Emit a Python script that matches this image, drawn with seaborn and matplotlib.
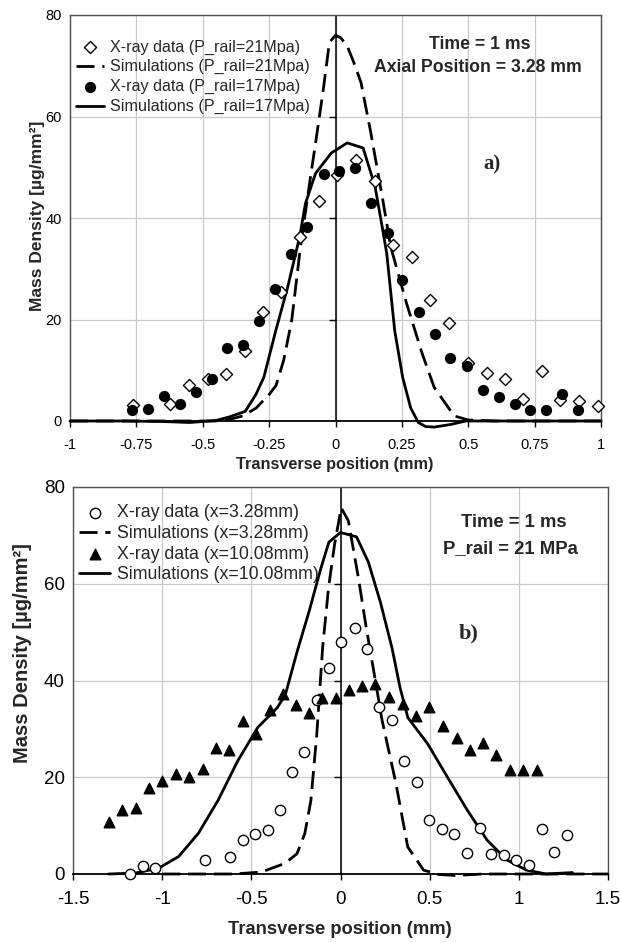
import numpy as np
import pandas as pd
import matplotlib
matplotlib.use("Agg")
import matplotlib.pyplot as plt
import matplotlib.markers as mmarkers
import seaborn as sns

# ---------------- Panel a) data ----------------
a_xray21_x = [-0.761, -0.624, -0.553, -0.481, -0.414, -0.342, -0.274, -0.204, -0.132, -0.062,
              0.007, 0.078, 0.150, 0.217, 0.287, 0.357, 0.427, 0.499, 0.569, 0.638,
              0.708, 0.778, 0.847, 0.916, 0.988]
a_xray21_y = [3.2, 3.4, 7.1, 8.2, 9.2, 13.7, 21.4, 25.5, 36.3, 43.3,
              48.4, 51.5, 47.2, 34.7, 32.3, 23.8, 19.3, 11.5, 9.5, 8.2,
              4.4, 9.8, 4.2, 4.0, 3.0]

a_sim21_x = [-1.0, -0.8, -0.6, -0.45, -0.4, -0.35, -0.3, -0.25, -0.224, -0.195, -0.165, -0.132,
             -0.1, -0.075, -0.046, -0.023, 0.0, 0.02, 0.044, 0.07, 0.096, 0.133, 0.178,
             0.208, 0.268, 0.327, 0.372, 0.447, 0.5, 0.6, 0.8, 1.0]
a_sim21_y = [0, 0, 0, 0, 0.3, 1.0, 2.5, 5.2, 7.0, 12.0, 19.8, 34.3,
             46.0, 54.8, 65.3, 74.6, 76.0, 75.5, 73.9, 70.5, 66.7, 56.8, 43.6,
             34.3, 23.1, 13.2, 6.6, 1.0, 0.2, 0, 0, 0]

a_xray17_x = [-0.766, -0.706, -0.646, -0.587, -0.527, -0.467, -0.407, -0.348, -0.288, -0.228,
              -0.167, -0.107, -0.045, 0.012, 0.075, 0.134, 0.196, 0.252, 0.313, 0.373,
              0.433, 0.494, 0.554, 0.615, 0.675, 0.734, 0.794, 0.854, 0.913]
a_xray17_y = [2.2, 2.3, 4.9, 3.4, 5.7, 8.2, 14.3, 14.9, 19.7, 26.1,
              32.9, 38.3, 48.7, 49.3, 49.9, 43.0, 37.1, 27.7, 21.4, 17.2,
              12.5, 10.8, 6.2, 4.8, 3.3, 2.1, 2.1, 5.3, 2.1]

a_sim17_x = [-1.0, -0.8, -0.65, -0.55, -0.45, -0.4, -0.34, -0.3, -0.27, -0.225, -0.18, -0.135,
             -0.113, -0.075, -0.016, 0.044, 0.104, 0.149, 0.178, 0.193, 0.223, 0.253,
             0.283, 0.312, 0.34, 0.372, 0.432, 0.491, 0.6, 0.8, 1.0]
a_sim17_y = [0, 0, -0.1, -0.3, 0.1, 0.8, 1.9, 5.2, 8.6, 17.8, 26.4, 36.3,
             42.9, 48.8, 52.8, 54.8, 53.8, 46.2, 37.6, 33.0, 17.8, 8.6,
             2.6, -0.3, -1.1, -1.2, -0.7, 0, 0, 0, 0]

a_labels = ["X-ray data (P_rail=21Mpa)", "Simulations (P_rail=21Mpa)",
            "X-ray data (P_rail=17Mpa)", "Simulations (P_rail=17Mpa)"]
a_xticks = [-1, -0.75, -0.5, -0.25, 0, 0.25, 0.5, 0.75, 1]
a_xticklabels = ["-1", "-0.75", "-0.5", "-0.25", "0", "0.25", "0.5", "0.75", "1"]

# ---------------- Panel b) data ----------------
b_xray3_x = [-1.179, -1.108, -1.041, -0.760, -0.620, -0.549, -0.480, -0.409, -0.341, -0.272,
             -0.203, -0.134, -0.065, 0.005, 0.079, 0.148, 0.218, 0.287, 0.358, 0.427,
             0.498, 0.567, 0.637, 0.709, 0.780, 0.846, 0.917, 0.986, 1.057, 1.128,
             1.199, 1.270]
b_xray3_y = [0, 1.6, 1.3, 2.9, 3.6, 7.0, 8.2, 9.0, 13.3, 21.0,
             25.3, 36.0, 42.6, 47.9, 50.8, 46.5, 34.5, 31.9, 23.4, 19.1,
             11.1, 9.3, 8.2, 4.4, 9.6, 4.2, 3.9, 2.9, 1.8, 9.3,
             4.6, 8.0]

b_sim3_x = [-1.0, -0.8, -0.6, -0.444, -0.311, -0.244, -0.2, -0.166, -0.133, -0.1, -0.067,
            -0.033, 0.004, 0.044, 0.1, 0.144, 0.189, 0.233, 0.311, 0.377, 0.466,
            0.55, 0.643, 0.8, 1.0, 1.2, 1.5]
b_sim3_y = [0, 0, 0, 0.4, 2.2, 4.2, 8.4, 15.2, 28.9, 46.9, 59.2,
            68.2, 75.7, 73.0, 61.3, 51.0, 41.4, 31.8, 18.7, 5.6, 0.8,
            -0.1, -0.3, 0, 0, 0, 0]

b_xray10_x = [-1.300, -1.223, -1.148, -1.075, -0.999, -0.924, -0.848, -0.773, -0.697, -0.624,
              -0.549, -0.474, -0.398, -0.325, -0.252, -0.176, -0.103, -0.028, 0.048, 0.123,
              0.196, 0.274, 0.349, 0.422, 0.498, 0.573, 0.651, 0.724, 0.797, 0.873,
              0.950, 1.026, 1.101]
b_xray10_y = [10.7, 13.3, 13.7, 17.8, 19.3, 20.6, 20.1, 21.7, 26.0, 25.6,
              31.6, 29.0, 33.8, 37.3, 35.0, 33.3, 36.3, 36.3, 38.0, 38.8,
              39.3, 36.6, 35.2, 32.7, 34.5, 30.6, 28.1, 25.6, 27.0, 24.7,
              21.5, 21.5, 21.5]

b_sim10_x = [-1.3, -1.15, -1.02, -0.908, -0.797, -0.687, -0.576, -0.464, -0.354, -0.309,
             -0.243, -0.176, -0.11, -0.065, 0.0, 0.09, 0.156, 0.223, 0.289, 0.334,
             0.378, 0.489, 0.6, 0.711, 0.822, 0.933, 1.043, 1.154, 1.3]
b_sim10_y = [0, 0.2, 1.2, 3.6, 8.4, 15.2, 23.4, 30.3, 34.4, 37.1,
             46.0, 54.3, 63.2, 68.6, 70.6, 69.7, 64.5, 56.3, 46.7, 38.5,
             32.3, 26.9, 20.0, 13.2, 7.0, 2.9, 0.8, 0, 0.3]

b_labels = ["X-ray data (x=3.28mm)", "Simulations (x=3.28mm)",
            "X-ray data (x=10.08mm)", "Simulations (x=10.08mm)"]
b_xticks = [-1.5, -1, -0.5, 0, 0.5, 1, 1.5]
b_xticklabels = ["-1.5", "-1", "-0.5", "0", "0.5", "1", "1.5"]

yticks = [0, 20, 40, 60, 80]
ylabel = "Mass Density [µg/mm²]"
xlabel = "Transverse position (mm)"

# ---------------- Styling ----------------
sns.set_theme(style="white")
plt.rcParams["font.family"] = ["Liberation Sans", "DejaVu Sans"]

W, H = 621, 943
fig = plt.figure(figsize=(W / 100, H / 100), dpi=100)
ax1 = fig.add_axes([70 / W, 1 - 421 / H, 531 / W, 406 / H])
ax2 = fig.add_axes([73 / W, 1 - 874 / H, 535 / W, 387 / H])

DASH = (0, (6.5, 2.8))


def panel(ax, sx1, sy1, lx1, ly1, sx2, sy2, lx2, ly2, labels, m1, m1fill, s1, m2, m2fill, s2,
          xlim, xticks, xticklabels, tick_fs, leg_fs, leg_anchor, leg_space):
    d1 = pd.DataFrame({"x": sx1, "y": sy1})
    l1 = pd.DataFrame({"x": lx1, "y": ly1})
    d2 = pd.DataFrame({"x": sx2, "y": sy2})
    l2 = pd.DataFrame({"x": lx2, "y": ly2})
    sns.scatterplot(data=d1, x="x", y="y", marker=m1, s=s1, color=m1fill,
                    edgecolor="black", linewidth=1.0, label=labels[0], ax=ax,
                    zorder=4, clip_on=False)
    sns.lineplot(data=l1, x="x", y="y", sort=False, estimator=None, color="black",
                 lw=2.0, linestyle=DASH, label=labels[1], ax=ax, zorder=3, clip_on=False)
    sns.scatterplot(data=d2, x="x", y="y", marker=m2, s=s2, color=m2fill,
                    edgecolor="black", linewidth=1.0, label=labels[2], ax=ax,
                    zorder=4, clip_on=False)
    sns.lineplot(data=l2, x="x", y="y", sort=False, estimator=None, color="black",
                 lw=2.0, label=labels[3], ax=ax, zorder=3, clip_on=False)

    ax.set_xlim(*xlim)
    ax.set_ylim(0, 80)
    ax.set_xticks(xticks)
    ax.set_xticklabels(xticklabels)
    ax.set_yticks(yticks)
    ax.set_yticklabels([str(v) for v in yticks])
    ax.set_xlabel("")
    ax.set_ylabel("")
    ax.grid(True, color="#c9c9c9", lw=0.9)
    ax.set_axisbelow(True)
    ax.tick_params(axis="x", bottom=True, direction="out", length=4, width=1,
                   color="black", labelsize=tick_fs, pad=8, labelcolor="black")
    ax.tick_params(axis="y", left=False, length=0, labelsize=tick_fs, pad=6,
                   labelcolor="black")
    for s in ["top", "right", "left"]:
        ax.spines[s].set_color("#505050")
        ax.spines[s].set_linewidth(1.0)
    ax.spines["bottom"].set_color("black")
    ax.spines["bottom"].set_linewidth(1.3)
    # vertical axis line through x = 0 with its tick marks
    ax.axvline(0, color="black", lw=1.1, zorder=2)
    ax.plot([0] * 3, yticks[1:4], linestyle="none", marker=mmarkers.TICKLEFT,
            markersize=5, color="black", markeredgewidth=1.0, zorder=2)

    h, l = ax.get_legend_handles_labels()
    order = [l.index(t) for t in labels]
    ax.legend([h[i] for i in order], [l[i] for i in order], loc="upper left",
              bbox_to_anchor=leg_anchor, frameon=False, fontsize=leg_fs,
              borderpad=0, borderaxespad=0, handlelength=1.7, handletextpad=0.4,
              labelspacing=leg_space)


panel(ax1, a_xray21_x, a_xray21_y, a_sim21_x, a_sim21_y,
      a_xray17_x, a_xray17_y, a_sim17_x, a_sim17_y, a_labels,
      "D", "white", 38, "o", "black", 50, (-1, 1), a_xticks, a_xticklabels,
      10.5, 11.6, (0.012, 0.94), 0.3)
panel(ax2, b_xray3_x, b_xray3_y, b_sim3_x, b_sim3_y,
      b_xray10_x, b_xray10_y, b_sim10_x, b_sim10_y, b_labels,
      "o", "white", 55, "^", "black", 58, (-1.5, 1.5), b_xticks, b_xticklabels,
      13.5, 12.8, (0.012, 0.955), 0.2)

# Annotations panel a)
ax1.text(0.545, 74.2, "Time = 1 ms", ha="center", va="center", fontsize=12.7,
         fontweight="bold")
ax1.text(0.537, 69.6, "Axial Position = 3.28 mm", ha="center", va="center",
         fontsize=12.7, fontweight="bold")
ax1.text(0.59, 50.5, "a)", ha="center", va="center", fontsize=15,
         fontweight="bold", family=["Liberation Serif", "DejaVu Serif"])
# Annotations panel b)
ax2.text(0.97, 72.6, "Time = 1 ms", ha="center", va="center", fontsize=13.3,
         fontweight="bold")
ax2.text(0.954, 67.2, "P_rail = 21 MPa", ha="center", va="center", fontsize=13.3,
         fontweight="bold")
ax2.text(0.72, 49.7, "b)", ha="center", va="center", fontsize=16,
         fontweight="bold", family=["Liberation Serif", "DejaVu Serif"])

# Axis titles
fig.text(38 / W, 1 - 216 / H, ylabel, rotation=90, ha="center", va="center",
         fontsize=12.5, fontweight="bold")
fig.text(335 / W, 1 - 464 / H, xlabel, ha="center", va="center",
         fontsize=11.7, fontweight="bold")
fig.text(23 / W, 1 - 653 / H, ylabel, rotation=90, ha="center", va="center",
         fontsize=14.5, fontweight="bold")
fig.text(340 / W, 1 - 930 / H, xlabel, ha="center", va="center",
         fontsize=13.2, fontweight="bold")

fig.savefig("out.png", dpi=100)
